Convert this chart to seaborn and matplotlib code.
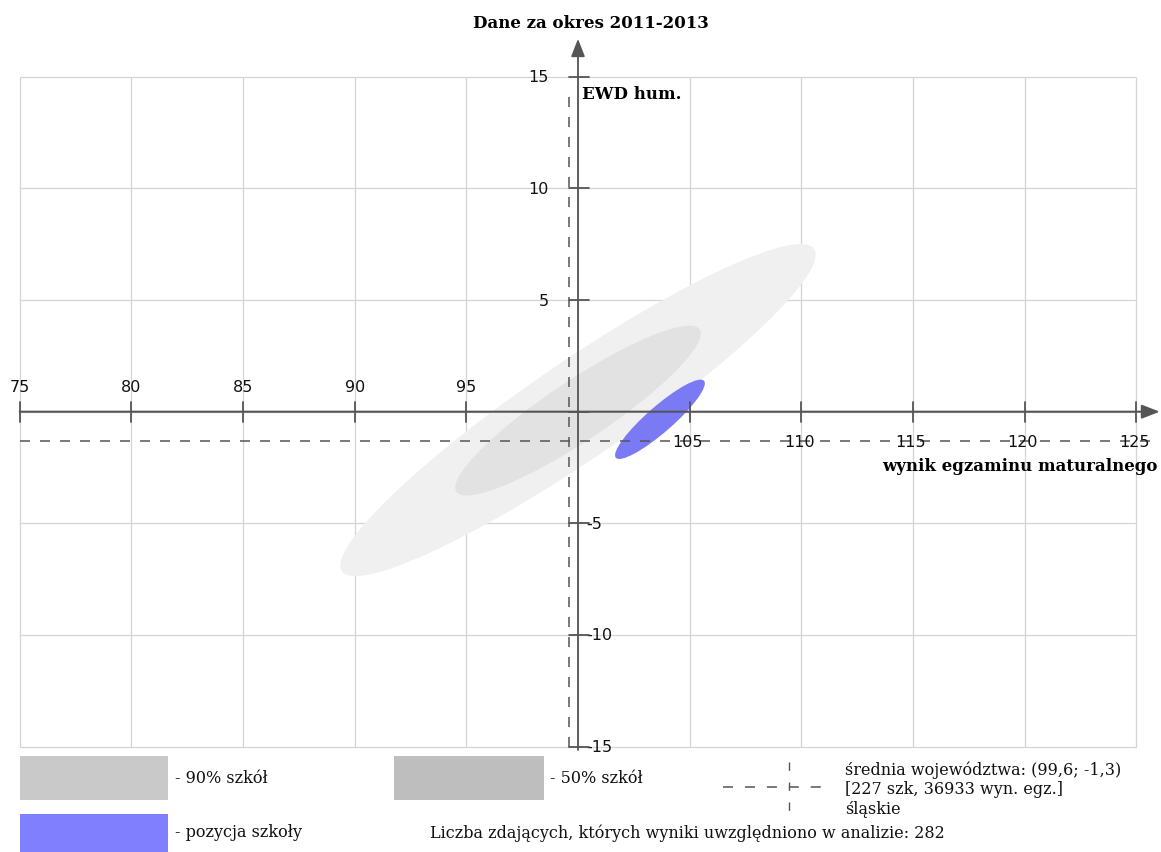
import numpy as np
import pandas as pd
import matplotlib
matplotlib.use("Agg")
import matplotlib.pyplot as plt
from matplotlib.patches import Ellipse, Rectangle
from matplotlib.lines import Line2D
import seaborn as sns

# ---------------- data ----------------
title = "Dane za okres 2011-2013"
x_label = "wynik egzaminu maturalnego"
y_label = "EWD hum."
x_ticks = [75, 80, 85, 90, 95, 100, 105, 110, 115, 120, 125]
y_ticks = [-15, -10, -5, 0, 5, 10, 15]

ellipse_names = ["90% szkół", "50% szkół", "pozycja szkoły"]
ellipse_cx = [100.0, 100.0, 103.67]
ellipse_cy = [0.07, 0.05, -0.34]
ellipse_a = [12.8, 6.55, 2.62]       # semi-major axis
ellipse_b = [2.18, 1.35, 0.58]       # semi-minor axis
ellipse_angle = [34.3, 33.7, 41.1]   # degrees
ellipse_colors = ["#f0f0f0", "#e2e2e2", "#7a7af5"]
legend_colors = ["#c9c9c9", "#bebebe", "#8080ff"]

mean_x = 99.6
mean_y = -1.3
mean_info = ["średnia województwa: (99,6; -1,3)", "[227 szk, 36933 wyn. egz.]", "śląskie"]
count_text = "Liczba zdających, których wyniki uwzględniono w analizie: 282"

# ---------------- style ----------------
sns.set_theme(style="white")
plt.rcParams["font.family"] = ["DejaVu Serif", "DejaVu Sans"]
plt.rcParams["lines.scale_dashes"] = False

W, H = 1161, 853
fig = plt.figure(figsize=(W / 100, H / 100), dpi=100)
ax = fig.add_axes([0, 0, 1, 1])
S = 22.33          # pixels per data unit
ox, oy = 578, 412.7  # pixel position of (100, 0)
ax.set_xlim(100 - ox / S, 100 + (W - ox) / S)
ax.set_ylim(-(H - oy) / S, oy / S)
ax.axis("off")

xmin, xmax = x_ticks[0], x_ticks[-1]
ymin, ymax = y_ticks[0], y_ticks[-1]
grid_c = "#d4d4d4"
axis_c = "#555555"

# grid
ax.vlines(x_ticks, ymin, ymax, color=grid_c, lw=0.9, zorder=1)
ax.hlines(y_ticks, xmin, xmax, color=grid_c, lw=0.9, zorder=1)

# ellipses
for cx, cy, a, b, ang, col in zip(ellipse_cx, ellipse_cy, ellipse_a, ellipse_b,
                                  ellipse_angle, ellipse_colors):
    ax.add_patch(Ellipse((cx, cy), 2 * a, 2 * b, angle=ang, facecolor=col,
                         edgecolor="none", zorder=2))

# mean lines (dashed)
dash = (0, (7.2, 7.2))
ax.hlines(mean_y, xmin, xmax + 0.6, color=axis_c, lw=1.1, linestyles=dash, zorder=3)
ax.vlines(mean_x, ymin, ymax - 0.5, color=axis_c, lw=1.1, linestyles=dash, zorder=3)

# axes with arrows
ax.annotate("", xy=(126.05, 0), xytext=(xmin, 0),
            arrowprops=dict(arrowstyle="-|>,head_length=0.9,head_width=0.35",
                            color=axis_c, lw=1.5, shrinkA=0, shrinkB=0), zorder=4)
ax.annotate("", xy=(100, 16.7), xytext=(100, ymin - 0.15),
            arrowprops=dict(arrowstyle="-|>,head_length=0.9,head_width=0.35",
                            color=axis_c, lw=1.3, shrinkA=0, shrinkB=0), zorder=4)

# ticks
tick_font = dict(family="DejaVu Sans", fontsize=11.5, color="#111111")
for xv in x_ticks:
    if xv == 100:
        continue
    ax.plot([xv, xv], [-0.45, 0.45], color=axis_c, lw=1.3, zorder=4)
    if xv < 100:
        ax.text(xv, 1.13, str(xv), ha="center", va="center", **tick_font)
    else:
        ax.text(xv - 0.1, -1.33, str(xv), ha="center", va="center", **tick_font)
for yv in y_ticks:
    ax.plot([99.6, 100.5], [yv, yv], color=axis_c, lw=1.3, zorder=4)
    if yv == 0:
        continue
    if yv > 0:
        ax.text(98.7, yv, str(yv), ha="right", va="center", **tick_font)
    else:
        ax.text(100.35, yv, str(yv), ha="left", va="center", **tick_font)

# labels
ax.text(100.2, 14.23, y_label, ha="left", va="center", fontsize=12,
        fontweight="bold", color="black")
ax.text(125.95, -2.4, x_label, ha="right", va="center", fontsize=12,
        fontweight="bold", color="black")
fig.text(591 / W, 1 - 24 / H, title, ha="center", va="center", fontsize=12,
         fontweight="bold", color="black")

# ---------------- legend (figure pixel positions) ----------------
def fx(p):
    return p / W

def fy(p):
    return 1 - p / H

rects = [(20, 757, 148, 44), (394, 757, 150, 44), (20, 815, 148, 40)]
txt_pos = [(175, 779), (550, 779), (175, 833)]
for (rx, ry, rw, rh), col, name, (tx, ty) in zip(rects, legend_colors, ellipse_names, txt_pos):
    fig.patches.append(Rectangle((fx(rx), fy(ry + rh)), rw / W, rh / H,
                                 transform=fig.transFigure, facecolor=col,
                                 edgecolor="none"))
    fig.text(fx(tx), fy(ty), "- " + name, ha="left", va="center", fontsize=11.5,
             color="#111111")

fig.text(fx(430), fy(833), count_text, ha="left", va="center", fontsize=11.5,
         color="#111111")

fig.lines.append(Line2D([fx(723), fx(823)], [fy(788), fy(788)], transform=fig.transFigure,
                        color=axis_c, lw=1.1, linestyle=(0, (7.2, 8.6))))
fig.lines.append(Line2D([fx(789), fx(789)], [fy(763), fy(815)], transform=fig.transFigure,
                        color=axis_c, lw=1.0, linestyle=(0, (6.0, 8.4))))
for i, line in enumerate(mean_info):
    fig.text(fx(845), fy(770 + 20 * i), line, ha="left", va="center", fontsize=11.5,
             color="#111111")

fig.savefig("out.png", dpi=100, facecolor="white")
